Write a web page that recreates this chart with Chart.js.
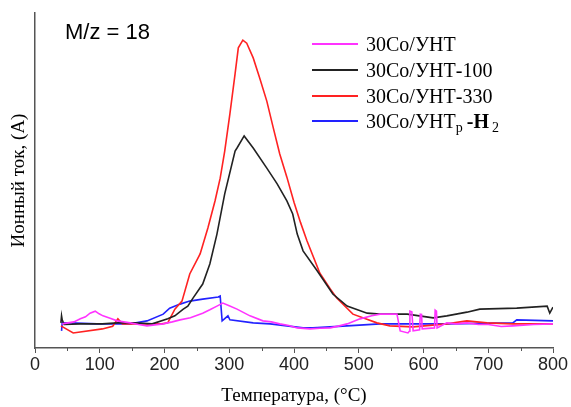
<!DOCTYPE html>
<html>
<head>
<meta charset="utf-8">
<script src="https://cdn.jsdelivr.net/npm/chart.js@4.4.1/dist/chart.umd.min.js"></script>
<style>
  html, body { margin: 0; padding: 0; background: #fff; }
  #wrap { width: 571px; height: 407px; position: relative; }
</style>
</head>
<body>
<div id="wrap"><canvas id="c" width="571" height="407"></canvas></div>
<script>
// ---- data (ion current in arbitrary units) ----
const xTicks = [0, 100, 200, 300, 400, 500, 600, 700, 800];
const seriesNames = ['30Co/УНТ', '30Co/УНТ-100', '30Co/УНТ-330', '30Co/УНТр-H2'];

const tUNT = [42, 60, 70, 78, 85, 93, 99, 105, 116, 127, 147, 160, 173, 185, 198, 212, 224, 240, 259, 270, 281, 290, 300, 312, 332, 352, 365, 378, 392, 405, 425, 440, 456, 470, 482, 502, 520, 533, 559, 564, 576, 578, 579, 582, 584, 594, 595, 597, 598, 617, 618, 620, 621, 636, 650, 667, 685, 700, 720, 738, 770, 800];
const vUNT = [7.2, 7.8, 8.7, 9.3, 10.4, 11.0, 10.2, 9.6, 8.9, 8.1, 7.5, 7.0, 6.6, 6.9, 7.2, 7.8, 8.4, 9.0, 10.4, 11.4, 12.5, 13.4, 12.6, 11.6, 9.6, 8.1, 7.8, 7.2, 6.7, 6.0, 5.7, 5.9, 6.0, 6.6, 7.2, 8.7, 9.6, 10.1, 10.1, 5.1, 4.5, 5.0, 11.0, 10.8, 5.1, 5.4, 10.1, 10.0, 5.7, 6.0, 11.3, 11.0, 6.0, 7.5, 7.2, 7.5, 7.0, 7.0, 6.4, 6.6, 7.0, 7.2];

const tUNT100 = [40, 41, 42, 45, 70, 104, 128, 154, 181, 205, 216, 229, 236, 244, 259, 270, 281, 293, 309, 312, 323, 337, 358, 374, 389, 398, 405, 414, 436, 460, 482, 513, 533, 575, 615, 636, 667, 687, 744, 791, 795, 800];
const vUNT100 = [7.5, 9.6, 8.4, 7.0, 7.2, 7.2, 7.5, 7.5, 7.2, 8.7, 9.6, 11.6, 12.5, 14.9, 19.1, 25.1, 34.0, 46.0, 58.8, 59.7, 63.3, 59.7, 53.7, 49.0, 43.9, 40.0, 34.0, 29.0, 23.0, 16.1, 12.5, 10.4, 10.1, 10.1, 9.0, 9.6, 10.7, 11.6, 11.9, 12.5, 10.4, 12.2];

const tUNT330 = [40, 59, 104, 120, 128, 135, 154, 196, 205, 216, 227, 239, 255, 267, 278, 286, 293, 301, 309, 314, 321, 327, 337, 347, 358, 368, 378, 389, 400, 410, 420, 440, 456, 466, 491, 528, 548, 584, 636, 667, 698, 738, 800];
const vUNT330 = [6.6, 4.5, 5.7, 6.5, 8.7, 7.2, 7.2, 7.2, 7.5, 11.6, 14.0, 22.1, 28.1, 35.8, 43.9, 50.7, 58.8, 69.9, 81.8, 89.6, 91.9, 91.0, 86.6, 80.6, 73.7, 65.7, 57.9, 51.0, 43.5, 37.5, 32.0, 22.3, 17.6, 14.9, 10.1, 7.5, 6.6, 6.3, 7.2, 8.1, 7.5, 7.2, 7.2];

const tUNTpH2 = [41, 42, 54, 96, 147, 173, 198, 208, 224, 239, 259, 283, 286, 289, 298, 301, 337, 363, 389, 414, 429, 482, 533, 636, 738, 744, 800];
const vUNTpH2 = [5.1, 7.5, 7.5, 7.2, 7.2, 8.1, 10.1, 11.9, 13.1, 14.0, 14.6, 15.2, 15.5, 8.1, 9.6, 8.4, 7.5, 7.2, 6.6, 6.0, 6.0, 6.6, 7.2, 7.2, 7.5, 8.4, 8.1];

const colors = ['#ff33ff', '#222222', '#ff2222', '#2222ff'];

function pts(t, v) { return t.map((x, i) => ({ x: x, y: v[i] })); }

const datasets = [
  { label: seriesNames[0], data: pts(tUNT, vUNT), borderColor: colors[0] },
  { label: seriesNames[1], data: pts(tUNT100, vUNT100), borderColor: colors[1] },
  { label: seriesNames[2], data: pts(tUNT330, vUNT330), borderColor: colors[2] },
  { label: seriesNames[3], data: pts(tUNTpH2, vUNTpH2), borderColor: colors[3] }
].map(d => Object.assign(d, { borderWidth: 1.6, pointRadius: 0, tension: 0, fill: false }));

const axisColor = '#555555';

const decor = {
  id: 'decor',
  afterDraw(chart) {
    const ctx = chart.ctx;
    const xs = chart.scales.x;
    const ca = chart.chartArea;
    // minor ticks
    ctx.save();
    ctx.strokeStyle = axisColor;
    ctx.lineWidth = 1;
    for (let v = 50; v < 800; v += 100) {
      const px = Math.round(xs.getPixelForValue(v)) + 0.5;
      ctx.beginPath();
      ctx.moveTo(px, ca.bottom);
      ctx.lineTo(px, ca.bottom + 3);
      ctx.stroke();
    }
    // M/z label
    ctx.fillStyle = '#000';
    ctx.font = '22px "Liberation Sans", Arial, sans-serif';
    ctx.textBaseline = 'alphabetic';
    ctx.textAlign = 'left';
    ctx.fillText('M/z = 18', 65, 39);
    // legend
    const rows = [44, 70, 96, 121];
    const serif = '"Liberation Serif", "Times New Roman", serif';
    rows.forEach((y, i) => {
      ctx.strokeStyle = colors[i];
      ctx.lineWidth = 2;
      ctx.beginPath();
      ctx.moveTo(312, y);
      ctx.lineTo(358, y);
      ctx.stroke();
      ctx.fillStyle = '#000';
      ctx.font = '20px ' + serif;
      const base = y + 7;
      if (i < 3) {
        ctx.fillText(seriesNames[i], 366, base);
      } else {
        let x = 366;
        const main = '30Co/УНТ';
        ctx.fillText(main, x, base);
        x += ctx.measureText(main).width;
        ctx.font = '14px ' + serif;
        ctx.fillText('р', x, base + 4);
        x += ctx.measureText('р').width + 4;
        ctx.font = 'bold 20px ' + serif;
        ctx.fillText('-H', x, base);
        x += ctx.measureText('-H').width + 3;
        ctx.font = '14px ' + serif;
        ctx.fillText('2', x, base + 4);
      }
    });
    ctx.restore();
  }
};

new Chart(document.getElementById('c'), {
  type: 'line',
  data: { datasets: datasets },
  options: {
    responsive: false,
    animation: false,
    layout: { padding: { top: 13, right: 18, left: 0, bottom: 0 } },
    plugins: { legend: { display: false }, tooltip: { enabled: false } },
    scales: {
      x: {
        type: 'linear',
        min: 0, max: 800,
        afterBuildTicks: (s) => { s.ticks = xTicks.map(v => ({ value: v })); },
        afterFit: (s) => { s.height = 59; },
        ticks: {
          color: '#222',
          padding: 1,
          maxRotation: 0,
          font: { family: '"Liberation Sans", Arial, sans-serif', size: 18 }
        },
        grid: { display: true, drawOnChartArea: false, drawTicks: true, tickLength: 5, color: axisColor },
        border: { display: true, color: axisColor, width: 1.5 },
        title: {
          display: true,
          text: 'Температура, (°C)',
          color: '#000',
          padding: { top: 0, bottom: 0 },
          font: { family: '"Liberation Serif", "Times New Roman", serif', size: 19, lineHeight: 1.2 }
        }
      },
      y: {
        type: 'linear',
        min: 0, max: 100,
        afterFit: (s) => { s.width = 35; },
        ticks: { display: false },
        grid: { display: false },
        border: { display: true, color: axisColor, width: 1.5 },
        title: {
          display: true,
          text: 'Ионный ток, (А)',
          color: '#000',
          padding: { top: 8, bottom: 0 },
          font: { family: '"Liberation Serif", "Times New Roman", serif', size: 19, lineHeight: 1.2 }
        }
      }
    }
  },
  plugins: [decor]
});
</script>
</body>
</html>
